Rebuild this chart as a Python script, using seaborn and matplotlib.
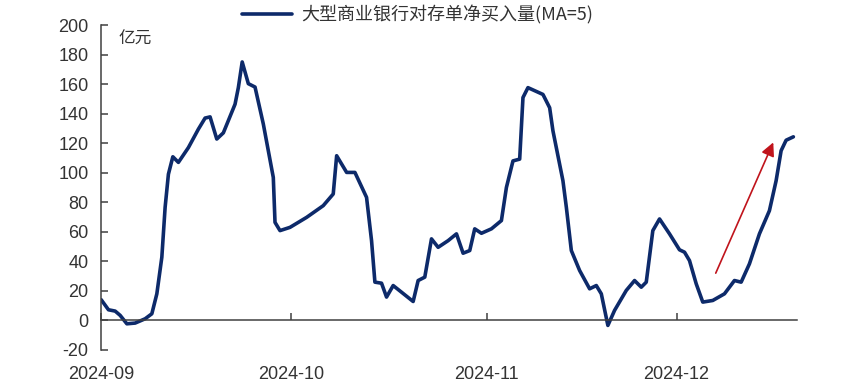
import numpy as np
import pandas as pd
import matplotlib
matplotlib.use("Agg")
import matplotlib.pyplot as plt
import matplotlib.dates as mdates
import seaborn as sns

# ---- data (days after 2024-09-01, value in 亿元) ----
day_offset = [0.0, 1.15, 2.21, 3.0, 4.06, 5.37, 6.95, 8.01, 8.80, 9.59, 10.11, 10.63,
              11.33, 12.21, 13.79, 15.37, 16.43, 17.22, 18.28, 19.32, 21.17, 21.69,
              22.3, 23.27, 24.33, 25.64, 27.22, 27.49, 28.28, 29.86, 32.50, 35.12,
              36.70, 37.24, 38.82, 40.13, 41.97, 42.76, 43.29, 44.34, 45.13, 46.18,
              47.50, 49.34, 50.13, 51.18, 52.24, 53.29, 54.87, 56.19, 57.24, 58.29,
              59.08, 60.14, 61.72, 63.30, 64.09, 65.13, 66.19, 66.71, 67.50, 69.87,
              70.93, 71.45, 73.03, 73.57, 74.36, 75.67, 77.25, 78.31, 79.10, 80.14,
              81.20, 83.05, 84.36, 85.42, 86.21, 87.25, 88.31, 89.89, 91.47, 92.26,
              93.05, 94.11, 95.15, 96.73, 98.58, 100.16, 101.22, 102.53, 104.11,
              105.69, 106.75, 107.54, 108.33, 109.48]
net_buy = [14, 7.2, 6.3, 3.4, -2.3, -1.8, 1.1, 4.5, 18, 42.8, 76.6, 99,
           110.8, 107, 117, 129.5, 137, 137.8, 122.8, 127, 146.4, 157.6,
           175, 160.3, 158, 133, 96.8, 66.4, 60.8, 63, 69.8, 77.7,
           85.6, 111.5, 100.2, 100.2, 83.3, 54, 25.9, 25.2, 15.8, 23.6,
           19.1, 12.8, 27, 29.3, 55.2, 49.5, 54, 58.6, 45.5, 47.3,
           62, 59, 62, 67.6, 90, 108, 109.2, 150.9, 157.6, 153,
           144, 128.4, 94.6, 76.6, 47.3, 33.8, 21.4, 23.6, 18, -3.4,
           6.8, 20.3, 27, 22.5, 25.9, 60.8, 68.7, 58.6, 47.8, 46.2,
           40.5, 24.8, 12.4, 13.5, 18, 27, 25.9, 38.3, 58.6,
           74.3, 94.6, 114.9, 122, 124.3]
start_date = "2024-09-01"
end_date = "2024-12-20"
month_ticks = ["2024-09-01", "2024-10-01", "2024-11-01", "2024-12-01"]
y_ticks = [-20, 0, 20, 40, 60, 80, 100, 120, 140, 160, 180, 200]
series_label = "大型商业银行对存单净买入量(MA=5)"
unit_label = "亿元"
arrow_start = (97.2, 32)    # days offset, value
arrow_end = (106.3, 120.5)

# ---- build frame ----
t0 = pd.Timestamp(start_date)
df = pd.DataFrame({
    "date": [t0 + pd.Timedelta(days=d) for d in day_offset],
    "value": net_buy,
})

sns.set_style("white")
plt.rcParams["font.family"] = ["Liberation Sans", "Noto Sans CJK SC", "DejaVu Sans"]
plt.rcParams["axes.unicode_minus"] = False

fig = plt.figure(figsize=(8.65, 3.91), dpi=100)
ax = fig.add_axes([0.117, 0.105, 0.804, 0.831])

navy = "#0d2a6a"
sns.lineplot(data=df, x="date", y="value", ax=ax, color=navy, linewidth=2.6,
             label=series_label, sort=False, solid_joinstyle="round",
             solid_capstyle="round")

ax.set_xlim(t0, pd.Timestamp(end_date))
ax.set_ylim(-20, 200)
ax.set_yticks(y_ticks)
ax.set_xticks([pd.Timestamp(m) for m in month_ticks])
ax.xaxis.set_major_formatter(mdates.DateFormatter("%Y-%m"))
ax.set_xlabel("")
ax.set_ylabel("")

spine_col = "#404040"
for s in ["top", "right"]:
    ax.spines[s].set_visible(False)
ax.spines["left"].set_color(spine_col)
ax.spines["left"].set_linewidth(1.1)
ax.spines["bottom"].set_color(spine_col)
ax.spines["bottom"].set_linewidth(1.1)
ax.spines["bottom"].set_position(("data", 0))

ax.tick_params(axis="y", direction="in", length=5, width=1.1, color=spine_col,
               labelsize=13, labelcolor="#333333", pad=9, left=True)
ax.tick_params(axis="x", direction="in", length=5, width=1.1, color=spine_col,
               labelsize=13, labelcolor="#333333", pad=33, bottom=True)

ax.text(0.025, 0.955, unit_label, transform=ax.transAxes, fontsize=12,
        color="#333333", family=["Noto Sans CJK SC", "DejaVu Sans"], va="center")

leg = ax.legend(loc="center", bbox_to_anchor=(0.455, 1.03), frameon=False,
                prop={"family": ["Noto Sans CJK SC", "DejaVu Sans"], "size": 13},
                handlelength=2.8, borderaxespad=0, handletextpad=0.5)
for txt in leg.get_texts():
    txt.set_color("#333333")

xs = mdates.date2num(t0 + pd.Timedelta(days=arrow_start[0]))
xe = mdates.date2num(t0 + pd.Timedelta(days=arrow_end[0]))
ax.annotate("", xy=(xe, arrow_end[1]), xytext=(xs, arrow_start[1]),
            arrowprops=dict(arrowstyle="-|>", color="#c0141c", lw=1.2,
                            mutation_scale=20, shrinkA=0, shrinkB=0))

fig.savefig("out.png", dpi=100, facecolor="white")
